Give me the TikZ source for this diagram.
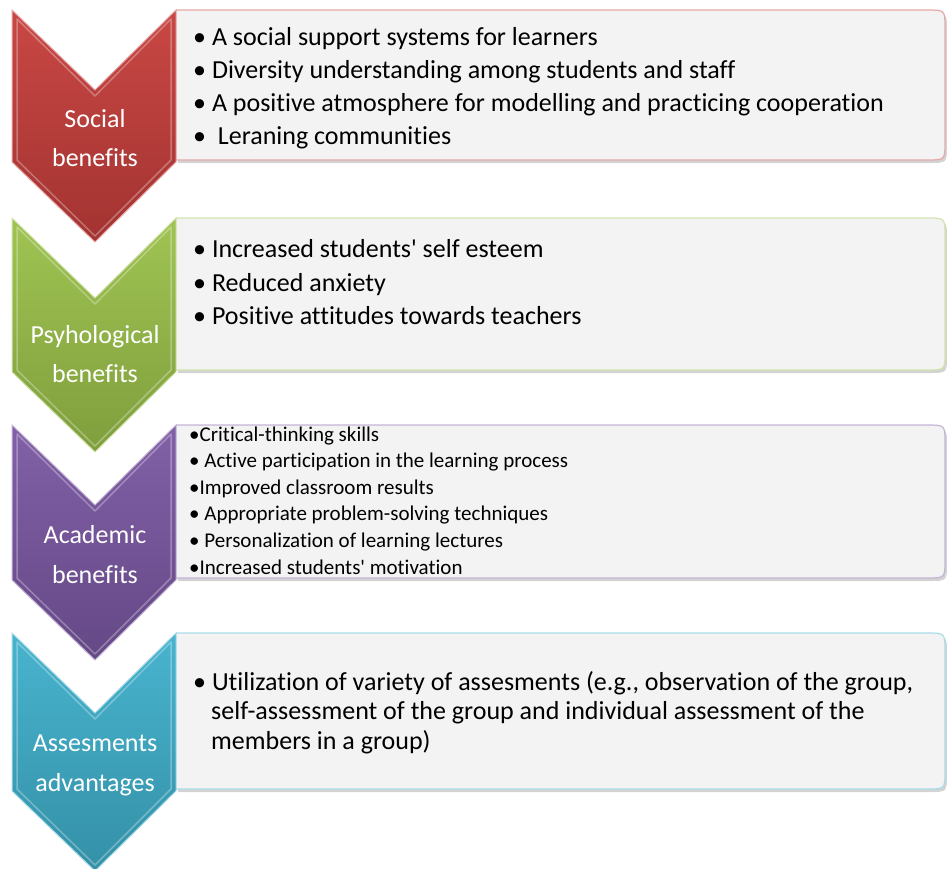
\documentclass[tikz,border=0pt]{standalone}
\usepackage{fontspec}
\setmainfont{Carlito}[Ligatures=CommonOff]
\usetikzlibrary{shadows}

\definecolor{socialred}{HTML}{C63E3B}
\definecolor{psygreen}{HTML}{9BC14A}
\definecolor{acadpurple}{HTML}{7B58A3}
\definecolor{assesaqua}{HTML}{3FB0CC}
\definecolor{boxgray}{HTML}{F3F3F3}

\tikzset{
  chevtext/.style={text=white, inner sep=0pt, anchor=base,
    font=\fontsize{26}{30}\selectfont},
  itemtext/.style={text=black, inner sep=0pt, anchor=base west,
    font=\fontsize{26}{30}\selectfont},
  smallitem/.style={itemtext, font=\fontsize{21}{25}\selectfont},
}

\begin{document}
\begin{tikzpicture}[x=1pt,y=-1pt]
  \useasboundingbox (0,0) rectangle (947,868);

  % one row: box on the right, chevron on the left
  % #1 top, #2 colour, #3 box height
  \newcommand{\benefitrow}[3]{%
    \fill[boxgray, drop shadow={shadow xshift=2pt, shadow yshift=-3pt, opacity=0.35}]
      (176,#1) -- (927,#1) .. controls (945,#1) .. (945,#1+18)
      -- (945,#1+#3-18) .. controls (945,#1+#3) .. (927,#1+#3)
      -- (176,#1+#3) -- cycle;
    \draw[#2!45!white, line width=1.2pt]
      (176,#1) -- (927,#1) .. controls (945,#1) .. (945,#1+18)
      -- (945,#1+#3-18) .. controls (945,#1+#3) .. (927,#1+#3)
      -- (176,#1+#3);
    \shade[top color=#2!95!white, bottom color=#2!82!black,
      draw=#2!45!white, line width=1pt]
      (12,#1) -- (95,#1+80) -- (176,#1) -- (176,#1+#3+2)
      -- (95,#1+#3+82) -- (12,#1+#3+2) -- cycle;
    % bevel light
    \draw[white, opacity=0.3, line width=1.5pt, line join=round]
      (17,#1+9) -- (95,#1+86) -- (171,#1+9) -- (171,#1+#3)
      -- (95,#1+#3+76) -- (17,#1+#3) -- cycle;
  }

  \benefitrow{10}{socialred}{150}
  \benefitrow{218}{psygreen}{152}
  \benefitrow{425}{acadpurple}{153}
  \benefitrow{633}{assesaqua}{156}

  % chevron labels
  \node[chevtext] (soc-a) at (95,127) {Social};
  \node[chevtext] (soc-b) at (95,166) {benefits};
  \node[chevtext] (psy-a) at (95,343) {Psyhological};
  \node[chevtext] (psy-b) at (95,382) {benefits};
  \node[chevtext] (aca-a) at (95,543) {Academic};
  \node[chevtext] (aca-b) at (95,583) {benefits};
  \node[chevtext] (ass-a) at (95,751) {Assesments};
  \node[chevtext] (ass-b) at (95,791) {advantages};

  % social
  \foreach \t [count=\i] in {{• A social support systems for learners},
      {• Diversity understanding among students and staff},
      {• A positive atmosphere for modelling and practicing cooperation},
      {•\ \ Leraning communities}}
    \node[itemtext] (social\i) at (193,12+33*\i) {\t};

  % psychological
  \foreach \t [count=\i] in {{• Increased students\textquotesingle\ self esteem},
      {• Reduced anxiety},
      {• Positive attitudes\ towards teachers}}
    \node[itemtext] (psy\i) at (193,224+33.5*\i) {\t};

  % academic
  \foreach \t/\x [count=\i] in {{•Critical-thinking skills}/189,
      {• Active participation in the learning process}/189,
      {•Improved classroom results}/189,
      {• Appropriate problem-solving techniques}/189,
      {• Personalization of learning lectures}/189,
      {•Increased students\textquotesingle\ motivation}/189}
    \node[smallitem] (aca\i) at (\x,414.5+26.6*\i) {\t};

  % assesments
  \node[itemtext] (ass1) at (193,690) {• Utilization of variety of assesments (e.g., observation of the group,};
  \node[itemtext] (ass2) at (211,719) {self-assessment of the group and individual assessment of the};
  \node[itemtext] (ass3) at (211,749) {members in a group)};
\end{tikzpicture}
\end{document}
